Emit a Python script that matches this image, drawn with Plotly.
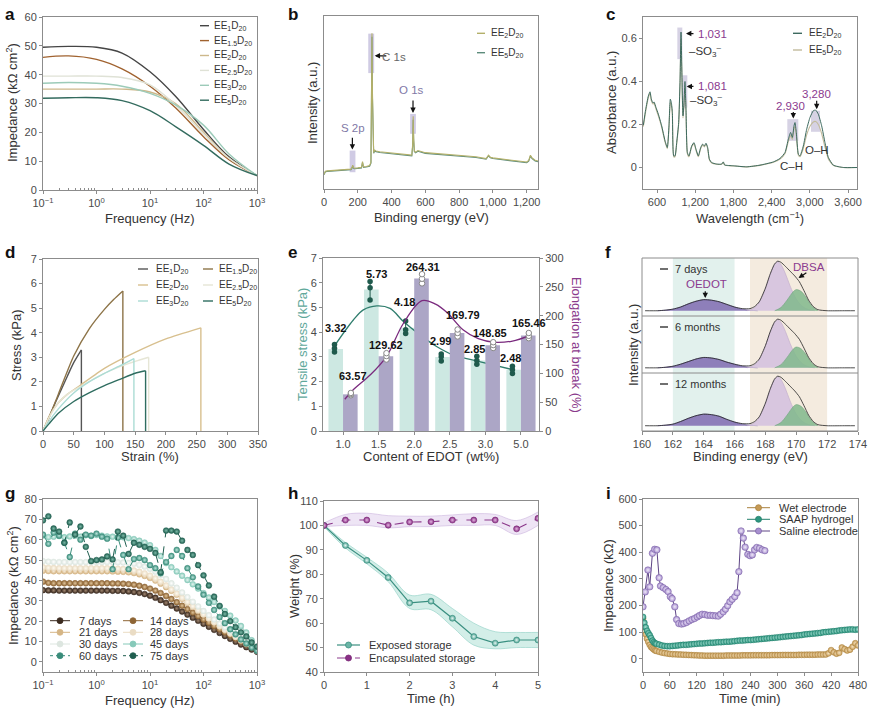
import plotly.graph_objects as go

W, H = 875, 713
FONT = "Liberation Sans, Arial, Helvetica, sans-serif"
LC = "#8c8c8c"
TXT = "#333333"
TICK = "#4a4a4a"


def px(x):
    return x / W


def py(y):
    return 1 - y / H


def xd(l, r):
    return [px(l), px(r)]


def yd(t, b):
    return [py(b), py(t)]


# ======================= DATA =======================
# (a) impedance vs frequency
freq_a = [0.1, 0.3, 1, 3, 10, 30, 100, 300, 1000]
a_names = ["EE<sub>1</sub>D<sub>20</sub>", "EE<sub>1.5</sub>D<sub>20</sub>", "EE<sub>2</sub>D<sub>20</sub>",
           "EE<sub>2.5</sub>D<sub>20</sub>", "EE<sub>3</sub>D<sub>20</sub>", "EE<sub>5</sub>D<sub>20</sub>"]
a_ee1 = [49.5, 49.8, 49.5, 47.5, 41.0, 32.5, 21.0, 11.5, 5.0]
a_ee15 = [46.0, 46.5, 45.3, 42.0, 36.0, 28.5, 18.5, 10.5, 5.0]
a_ee2 = [35.0, 35.0, 35.0, 35.0, 34.0, 30.0, 20.0, 11.0, 5.0]
a_ee25 = [39.5, 39.5, 39.5, 39.0, 36.5, 29.5, 19.5, 11.0, 5.0]
a_ee3 = [37.0, 37.3, 37.0, 36.0, 33.5, 29.5, 22.5, 12.5, 5.0]
a_ee5 = [31.8, 32.0, 32.0, 31.0, 27.5, 22.0, 15.5, 9.0, 5.0]

# (b) XPS survey
xps_x = [0, 8, 20, 60, 100, 140, 160, 166, 170, 174, 180, 200, 222, 228, 234, 250, 270, 278, 281, 284,
         287, 290, 294, 300, 308, 330, 400, 480, 520, 525, 528, 531, 535, 542, 556, 600, 700, 800, 900, 960,
         968, 974, 985, 1000, 1100, 1200, 1212, 1222, 1232, 1250, 1267]
xps_ee2 = [8.5, 10.3, 10.5, 10.8, 11.0, 11.3, 11.5, 12.5, 13.8, 12.3, 12.0, 12.2, 12.5, 15.8, 12.8, 13.0, 13.5,
           15.5, 50, 90, 55, 24, 21, 22.5, 22.0, 21.5, 20.8, 20.0, 19.6, 26, 42, 29, 22, 21.3, 22.2, 21.0,
           20.2, 19.4, 18.6, 17.6, 18.5, 19.6, 18.4, 18.0, 16.8, 15.6, 16.5, 19.5, 18.0, 16.6, 16.2]
xps_ee5 = [8.2, 10.0, 10.2, 10.5, 10.7, 11.0, 11.2, 12.1, 13.3, 12.0, 11.7, 11.9, 12.2, 15.2, 12.5, 12.7, 13.2,
           15.0, 48, 88, 52, 23.5, 20.6, 22.0, 21.6, 21.1, 20.4, 19.6, 19.2, 25, 40, 28, 21.6, 20.9, 21.8,
           20.6, 19.8, 19.0, 18.2, 17.2, 18.1, 19.2, 18.0, 17.6, 16.4, 15.2, 16.1, 19.0, 17.6, 16.2, 15.8]

# (c) FTIR
ftir_x = [385, 422, 464, 490, 511, 537, 553, 584, 621, 673, 726, 762, 788, 809, 825, 841, 862, 883, 909, 940,
          961, 977, 998, 1008, 1024, 1039, 1055, 1076, 1102, 1144, 1181, 1212, 1249, 1286, 1317, 1343, 1369,
          1395, 1422, 1458, 1537, 1615, 1641, 1662, 1798, 2008, 2217, 2427, 2531, 2610, 2662, 2698, 2725,
          2751, 2766, 2787, 2819, 2845, 2897, 2950, 3002, 3054, 3091, 3133, 3185, 3237, 3290, 3368, 3525, 3740]
ftir_ee2 = [0.197, 0.27, 0.333, 0.352, 0.318, 0.30, 0.305, 0.279, 0.248, 0.194, 0.124, 0.093, 0.194, 0.318,
            0.302, 0.256, 0.054, 0.054, 0.116, 0.209, 0.395, 0.63, 0.333, 0.24, 0.302, 0.40, 0.271, 0.07,
            0.054, 0.10, 0.116, 0.085, 0.054, 0.093, 0.109, 0.10, 0.113, 0.093, 0.039, 0.023, 0.016, 0.016,
            0.026, 0.012, 0.008, 0.003, 0.011, 0.026, 0.042, 0.07, 0.132, 0.163, 0.14, 0.194, 0.209, 0.163,
            0.062, 0.054, 0.10, 0.178, 0.233, 0.264, 0.267, 0.248, 0.194, 0.116, 0.047, 0.011, 0.0, 0.0]
ftir_ee5 = [0.19, 0.26, 0.325, 0.345, 0.31, 0.295, 0.3, 0.272, 0.24, 0.188, 0.118, 0.088, 0.185, 0.305, 0.29,
            0.245, 0.05, 0.05, 0.11, 0.2, 0.38, 0.6, 0.32, 0.23, 0.29, 0.38, 0.26, 0.065, 0.05, 0.095, 0.11,
            0.08, 0.05, 0.088, 0.104, 0.096, 0.108, 0.088, 0.036, 0.021, 0.015, 0.015, 0.024, 0.011, 0.007,
            0.003, 0.01, 0.024, 0.039, 0.065, 0.122, 0.15, 0.13, 0.18, 0.192, 0.15, 0.057, 0.05, 0.088, 0.152,
            0.192, 0.212, 0.214, 0.2, 0.158, 0.095, 0.04, 0.01, 0.0, 0.0]

# (d) stress-strain
d_ee1_x = [0, 10, 20, 30, 40, 50, 62.5, 62.5]
d_ee1_y = [0, 0.58, 1.15, 1.7, 2.25, 2.78, 3.3, 0]
d_ee15_x = [0, 10, 25, 50, 75, 100, 115, 130, 130]
d_ee15_y = [0, 0.55, 1.5, 3.05, 4.15, 4.95, 5.35, 5.7, 0]
d_ee2_x = [0, 10, 25, 40, 60, 100, 150, 200, 257, 257]
d_ee2_y = [0, 0.6, 1.15, 1.5, 1.85, 2.55, 3.2, 3.75, 4.2, 0]
d_ee25_x = [0, 10, 25, 40, 60, 100, 140, 172, 172]
d_ee25_y = [0, 0.55, 1.15, 1.5, 1.8, 2.35, 2.75, 3.0, 0]
d_ee3_x = [0, 10, 25, 50, 75, 100, 125, 148, 148]
d_ee3_y = [0, 0.4, 0.9, 1.55, 2.0, 2.35, 2.65, 2.95, 0]
d_ee5_x = [0, 10, 25, 50, 75, 100, 125, 150, 167, 167]
d_ee5_y = [0, 0.3, 0.72, 1.2, 1.55, 1.85, 2.1, 2.35, 2.45, 0]

# (e) tensile stress / elongation
e_content = ["1.0", "1.5", "2.0", "2.5", "3.0", "5.0"]
e_tensile = [3.32, 5.73, 4.18, 2.99, 2.85, 2.48]
e_elong = [63.57, 129.62, 264.31, 169.79, 148.85, 165.46]
e_tensile_pts = [[3.2, 3.35, 3.5], [5.3, 5.8, 6.05], [3.95, 4.1, 4.45], [2.83, 3.0, 3.12],
                 [2.7, 2.85, 3.02], [2.33, 2.48, 2.62]]
e_elong_pts = [[62, 64, 66], [124, 130, 135], [256, 264, 272], [164, 170, 176], [144, 149, 154], [161, 165, 170]]
e_fit_t_x = [-0.26, 0.29, 0.57, 0.95, 1.32, 1.69, 2.17, 2.64, 3.11, 3.86, 4.8]
e_fit_t_y = [3.4, 4.49, 4.9, 5.06, 4.96, 4.44, 3.88, 3.41, 3.07, 2.8, 2.47]
e_fit_e_x = [0.05, 0.28, 0.76, 1.23, 1.69, 2.22, 2.6, 2.93, 3.38, 3.8, 4.23, 4.76, 5.22]
e_fit_e_y = [55, 71, 97, 130, 186, 226, 220, 205, 175, 160, 154, 156, 165]

# (f) XPS S 2p
f_labels = ["7 days", "6 months", "12 months"]
f_env_x = [160.2, 161.0, 161.5, 162.0, 162.5, 163.0, 163.5, 164.0, 164.5, 165.0, 165.5, 166.0, 166.5, 167.0,
           167.3, 167.6, 168.0, 168.3, 168.6, 168.8, 169.0, 169.3, 169.6, 169.9, 170.2, 170.5, 170.8, 171.1,
           171.4, 172.0, 173.0, 173.8]
f_env_7d = [0.0, 0.0, 0.01, 0.03, 0.07, 0.13, 0.18, 0.21, 0.20, 0.17, 0.12, 0.07, 0.04, 0.04, 0.08, 0.17, 0.43,
            0.69, 0.89, 0.94, 0.92, 0.84, 0.75, 0.66, 0.55, 0.38, 0.20, 0.08, 0.02, 0.0, 0.0, 0.0]
f_env_6m = [0.0, 0.0, 0.01, 0.03, 0.07, 0.12, 0.17, 0.20, 0.19, 0.16, 0.11, 0.07, 0.04, 0.04, 0.08, 0.17, 0.43,
            0.69, 0.89, 0.94, 0.92, 0.84, 0.75, 0.66, 0.55, 0.38, 0.20, 0.08, 0.02, 0.0, 0.0, 0.0]
f_env_12m = [0.0, 0.0, 0.01, 0.03, 0.08, 0.14, 0.19, 0.22, 0.21, 0.18, 0.12, 0.07, 0.04, 0.04, 0.08, 0.17, 0.43,
             0.69, 0.89, 0.94, 0.92, 0.84, 0.75, 0.66, 0.55, 0.38, 0.20, 0.08, 0.02, 0.0, 0.0, 0.0]
f_oedot_x = [161.0, 161.5, 162.0, 162.5, 163.0, 163.5, 164.0, 164.5, 165.0, 165.5, 166.0, 166.5, 167.0, 167.5]
f_oedot_7d = [0.0, 0.01, 0.03, 0.07, 0.13, 0.18, 0.21, 0.20, 0.17, 0.12, 0.07, 0.03, 0.01, 0.0]
f_oedot_6m = [0.0, 0.01, 0.03, 0.07, 0.12, 0.17, 0.20, 0.19, 0.16, 0.11, 0.07, 0.03, 0.01, 0.0]
f_oedot_12m = [0.0, 0.01, 0.03, 0.08, 0.14, 0.19, 0.22, 0.21, 0.18, 0.12, 0.07, 0.03, 0.01, 0.0]
f_s1_x = [166.8, 167.2, 167.6, 168.0, 168.3, 168.6, 168.8, 169.0, 169.3, 169.6, 170.0, 170.4, 170.8, 171.2]
f_s1_y = [0.0, 0.04, 0.16, 0.42, 0.68, 0.88, 0.93, 0.88, 0.70, 0.47, 0.22, 0.08, 0.02, 0.0]
f_s2_x = [168.6, 169.0, 169.4, 169.8, 170.0, 170.3, 170.6, 171.0, 171.4]
f_s2_y = [0.0, 0.06, 0.20, 0.36, 0.40, 0.37, 0.27, 0.09, 0.0]

# (g) impedance vs frequency over storage days
freq_g = [0.1, 0.126, 0.158, 0.2, 0.251, 0.316, 0.398, 0.501, 0.631, 0.794, 1.0, 1.26, 1.58, 2.0, 2.51, 3.16,
          3.98, 5.01, 6.31, 7.94, 10.0, 12.6, 15.8, 20.0, 25.1, 31.6, 39.8, 50.1, 63.1, 79.4, 100, 126, 158,
          200, 251, 316, 398, 501, 631, 794, 1000]
g_7d = [35.2, 35.1, 35.1, 35.0, 35.0, 35.0, 35.0, 35.0, 35.0, 35.0, 35.0, 35.0, 35.0, 34.9, 34.9, 34.8, 34.6,
        34.3, 33.9, 33.3, 32.5, 31.5, 30.3, 29.0, 27.6, 26.2, 24.7, 23.2, 21.7, 20.2, 18.7, 17.2, 15.7, 14.2,
        12.7, 11.3, 9.9, 8.5, 7.2, 6.0, 4.9]
g_14d = [39.4, 38.8, 38.6, 38.6, 38.6, 38.6, 38.6, 38.6, 38.6, 38.6, 38.6, 38.6, 38.6, 38.5, 38.5, 38.4, 38.2,
         37.9, 37.4, 36.8, 36.0, 35.0, 33.8, 32.4, 30.9, 29.3, 27.6, 25.9, 24.2, 22.5, 20.8, 19.2, 17.6, 16.0,
         14.5, 13.0, 11.5, 10.0, 8.6, 7.2, 5.8]
g_21d = [44.8, 44.6, 44.5, 44.5, 44.5, 44.5, 44.5, 44.5, 44.5, 44.5, 44.5, 44.5, 44.5, 44.4, 44.3, 44.2, 44.0,
         43.6, 43.0, 42.2, 41.2, 39.9, 38.4, 36.7, 34.9, 33.0, 31.0, 29.0, 27.0, 25.1, 23.2, 21.3, 19.5, 17.7,
         15.9, 14.2, 12.5, 10.9, 9.3, 7.8, 6.4]
g_28d = [46.5, 46.2, 46.1, 46.0, 46.0, 46.0, 46.0, 46.0, 46.0, 46.0, 46.0, 46.0, 46.0, 45.9, 45.8, 45.6, 45.3,
         44.9, 44.3, 43.5, 42.4, 41.0, 39.4, 37.6, 35.6, 33.6, 31.5, 29.4, 27.3, 25.3, 23.3, 21.3, 19.4, 17.5,
         15.7, 13.9, 12.2, 10.5, 8.9, 7.4, 6.0]
g_30d = [49.5, 49.2, 49.1, 49.0, 49.0, 49.0, 49.0, 49.0, 49.0, 49.0, 49.0, 49.0, 49.0, 49.0, 48.9, 48.8, 48.6,
         48.2, 47.6, 46.8, 45.7, 44.3, 42.6, 40.7, 38.6, 36.4, 34.1, 31.8, 29.5, 27.2, 25.0, 22.9, 20.8, 18.8,
         16.9, 15.0, 13.2, 11.4, 9.7, 8.0, 6.4]
g_45d = [62.0, 61.3, 61.5, 61.8, 61.2, 61.6, 62.0, 61.5, 62.2, 61.8, 62.3, 62.0, 61.6, 61.5, 61.3, 61.2, 60.8,
         60.3, 59.5, 58.6, 57.3, 55.0, 52.0, 48.5, 46.5, 44.4, 42.3, 40.2, 38.1, 36.0, 33.8, 31.6, 29.4, 27.2,
         25.0, 22.7, 20.3, 17.6, 14.4, 10.6, 5.5]
g_60d = [62.5, 58.0, 63.5, 62.0, 58.5, 51.5, 63.0, 60.0, 62.5, 62.0, 63.0, 61.5, 60.5, 45.5, 61.0, 52.5, 45.5,
         50.5, 51.0, 50.0, 47.5, 46.0, 43.5, 49.0, 52.0, 55.0, 52.0, 46.0, 41.5, 37.0, 33.0, 29.0, 25.5, 22.0,
         19.0, 16.0, 13.5, 11.0, 9.0, 7.0, 5.5]
g_75d = [69.5, 71.5, 65.5, 64.0, 58.5, 68.5, 62.5, 66.5, 56.5, 49.5, 50.0, 50.3, 51.8, 50.3, 64.0, 62.0, 53.0,
         58.5, 57.5, 56.5, 55.5, 53.5, 44.0, 64.5, 64.5, 64.0, 59.5, 55.0, 52.5, 47.5, 42.5, 37.5, 32.0, 27.5,
         23.5, 20.0, 17.0, 14.5, 12.5, 9.5, 7.5]

# (h) weight vs time
h_time = [0, 0.5, 1, 1.5, 2, 2.5, 3, 3.5, 4, 4.5, 5]
h_exposed = [100, 91.8, 85.7, 78.7, 68.3, 69.0, 62.0, 54.5, 51.8, 53.1, 53.1]
h_exposed_hi = [100.5, 93.0, 87.0, 80.5, 71.5, 71.8, 66.0, 60.0, 56.5, 56.2, 56.2]
h_exposed_lo = [99.5, 90.8, 84.3, 77.0, 66.0, 65.5, 58.5, 51.0, 49.5, 50.0, 50.0]
h_encap = [100, 102.2, 102.2, 100.1, 101.4, 101.5, 102.2, 102.2, 102.2, 98.6, 102.9]
h_encap_hi = [101.0, 104.5, 105.0, 104.0, 103.8, 103.8, 104.3, 104.8, 104.5, 102.0, 105.5]
h_encap_lo = [99.5, 100.0, 100.0, 99.0, 99.5, 99.5, 100.0, 100.0, 100.0, 96.3, 100.0]

# (i) impedance vs time
i_time = [0, 3, 6, 9, 12, 15, 18, 21, 24, 27,
          30, 36, 42, 48, 54, 60, 66, 72, 78, 84, 90, 96, 102, 108, 114, 120, 126, 132, 138, 144,
          150, 156, 162, 168, 174, 180, 186, 192, 198, 204, 210, 216, 222, 228, 234, 240, 246, 252, 258, 264,
          270, 276, 282, 288, 294, 300, 306, 312, 318, 324, 330, 336, 342, 348, 354, 360, 366, 372, 378, 384,
          390, 396, 402, 408, 414, 420, 426, 432, 438, 444, 450, 456, 462, 468, 474, 480]
i_wet = [151, 118, 92, 75, 63, 52, 44, 39, 35, 31,
         29, 26, 23, 21, 19.5, 18, 17, 16.5, 16, 15.5, 15, 14.5, 14, 13.5, 13, 12.5, 12, 12, 11.5, 11.5,
         11.5, 11.5, 11.5, 11.5, 11.5, 11.5, 12, 12, 12, 12, 12, 12, 12.5, 12.5, 12.5, 12.5, 13, 13, 13, 13,
         13, 13, 13, 13.5, 13.5, 13.5, 13.5, 14, 14, 14, 14, 14, 14, 14.5, 14.5, 14.5, 15, 15, 15, 15,
         15.5, 15.5, 15.5, 16, 20, 32, 24, 19, 22, 42, 36, 31, 34, 45, 58, 50]
i_saap = [157, 135, 118, 105, 96, 88, 78, 68, 62, 58,
          56, 53, 50, 48, 47, 47, 48, 49, 50, 51, 52, 52, 53, 54, 55, 56, 57, 57, 58, 59,
          60, 60, 61, 62, 62, 63, 64, 64, 65, 66, 67, 68, 68, 69, 70, 70, 71, 72, 73, 74,
          75, 76, 77, 78, 79, 80, 81, 82, 83, 84, 85, 86, 87, 88, 89, 91, 92, 93, 94, 95,
          96, 97, 99, 100, 101, 102, 103, 104, 106, 107, 108, 109, 110, 110, 109, 110]
i_saline_t = [0, 5, 11, 15, 21, 26, 31, 36, 39, 45, 51, 56, 61, 65, 71, 75, 80, 86, 91, 97, 103, 109, 115,
              121, 126, 132, 138, 144, 150, 156, 162, 168, 173, 179, 184, 189, 194, 199, 205, 210, 214, 219,
              224, 228, 234, 239, 244, 249, 254, 260, 266, 272]
i_saline = [195, 251, 333, 270, 396, 411, 409, 304, 273, 267, 260, 252, 233, 226, 195, 147, 132, 130, 132,
            136, 142, 147, 151, 157, 162, 167, 166, 163, 163, 162, 161, 160, 167, 176, 186, 199, 214, 223,
            233, 248, 327, 480, 453, 419, 392, 387, 390, 409, 418, 415, 409, 406]

# ======================= FIGURE =======================
fig = go.Figure()
shapes, annos = [], []


def base_axis(dom, anchor, rng=None, **kw):
    d = dict(domain=dom, anchor=anchor, showline=True, linecolor=LC, linewidth=1, mirror=True,
             ticks="outside", ticklen=3, tickwidth=1, tickcolor=LC, showgrid=False, zeroline=False,
             tickfont=dict(family=FONT, size=11, color=TICK), automargin=False)
    if rng is not None:
        d["range"] = rng
    d.update(kw)
    return d


LOG_VALS = [0.1, 1, 10, 100, 1000]
LOG_TEXT = ["10<sup>−1</sup>", "10<sup>0</sup>", "10<sup>1</sup>", "10<sup>2</sup>", "10<sup>3</sup>"]
LOG_MINOR = [k * 10 ** e for e in (-1, 0, 1, 2) for k in range(2, 10)]


def log_axis(dom, anchor):
    return base_axis(dom, anchor, [-1, 3], type="log", tickvals=LOG_VALS, ticktext=LOG_TEXT,
                     minor=dict(tickvals=LOG_MINOR, ticks="inside", ticklen=2, tickcolor=LC))


def sc(x, y, xa, ya, **kw):
    fig.add_trace(go.Scatter(x=x, y=y, xaxis=xa, yaxis=ya, showlegend=False, hoverinfo="skip", **kw))


def leg(x0, x1, y, tx, text, color, width=1.4, dash="solid", mfill=None, medge=None, mr=3.0, size=10):
    shapes.append(dict(type="line", xref="paper", yref="paper", x0=px(x0), x1=px(x1), y0=py(y), y1=py(y),
                       line=dict(color=color, width=width, dash=dash)))
    if mfill:
        cx = (x0 + x1) / 2
        shapes.append(dict(type="circle", xref="paper", yref="paper", x0=px(cx - mr), x1=px(cx + mr),
                           y0=py(y + mr), y1=py(y - mr), fillcolor=mfill, line=dict(color=medge, width=0.8)))
    annos.append(dict(xref="paper", yref="paper", x=px(tx), y=py(y), text=text, showarrow=False,
                      xanchor="left", yanchor="middle", font=dict(family=FONT, size=size, color=TXT)))


def title_x(text, cx, cy, color=TXT):
    annos.append(dict(xref="paper", yref="paper", x=px(cx), y=py(cy), text=text, showarrow=False,
                      xanchor="center", yanchor="middle", font=dict(family=FONT, size=13, color=color)))


def title_y(text, cx, cy, color=TXT, angle=-90):
    annos.append(dict(xref="paper", yref="paper", x=px(cx), y=py(cy), text=text, showarrow=False,
                      textangle=angle, xanchor="center", yanchor="middle",
                      font=dict(family=FONT, size=13, color=color)))


def panel_label(t, x, y):
    annos.append(dict(xref="paper", yref="paper", x=px(x), y=py(y), text="<b>%s</b>" % t, showarrow=False,
                      xanchor="left", yanchor="top", font=dict(family=FONT, size=17, color="#111")))


layout_axes = {}

# ---------------- (a) ----------------
a_cols = ["#454545", "#a0622f", "#cdb88b", "#dfe2d6", "#9ccbb9", "#336b5e"]
for vals, col in zip([a_ee1, a_ee15, a_ee2, a_ee25, a_ee3, a_ee5], a_cols):
    sc(freq_a, vals, "x", "y", mode="lines", line=dict(color=col, width=1.4, shape="spline", smoothing=1.0))
layout_axes["xaxis"] = log_axis(xd(43, 257), "y")
layout_axes["yaxis"] = base_axis(yd(17, 190), "x", [0, 60], tickvals=[0, 10, 20, 30, 40, 50, 60])
for i, (nm, col) in enumerate(zip(a_names, a_cols)):
    leg(200, 209, 25.7 + 14.9 * i, 212, nm, col)
title_x("Frequency (Hz)", 150, 218)
title_y("Impedance (kΩ cm<sup>2</sup>)", 12, 103)
panel_label("a", 3, 3)

# ---------------- (b) ----------------
sc(xps_x, xps_ee5, "x2", "y2", mode="lines", line=dict(color="#5d8c7c", width=1.1))
sc(xps_x, xps_ee2, "x2", "y2", mode="lines", line=dict(color="#b3b06a", width=1.1))
layout_axes["xaxis2"] = base_axis(xd(324, 538), "y2", [0, 1267], tickvals=[0, 200, 400, 600, 800, 1000, 1200],
                                  ticktext=["0", "200", "400", "600", "800", "1,000", "1,200"])
layout_axes["yaxis2"] = base_axis(yd(16, 189), "x2", [0, 100], showticklabels=False, ticks="")
BOX = "rgba(170,160,205,0.55)"
for (x0, x1, y0, y1) in [(152, 186, 9.7, 22.2), (262, 297, 67, 89.8), (510, 544, 31.9, 43.4)]:
    shapes.append(dict(type="rect", xref="x2", yref="y2", x0=x0, x1=x1, y0=y0, y1=y1, fillcolor=BOX,
                       line=dict(width=0), layer="below"))
ARR = dict(showarrow=True, arrowhead=2, arrowsize=0.9, arrowwidth=1.2, arrowcolor="#111", text="")
annos.append(dict(xref="x2", yref="y2", x=168, y=22.8, axref="x2", ayref="y2", ax=168, ay=30.5, **ARR))
annos.append(dict(xref="x2", yref="y2", x=300, y=77, axref="x2", ayref="y2", ax=378, ay=77, **ARR))
annos.append(dict(xref="x2", yref="y2", x=527, y=44, axref="x2", ayref="y2", ax=527, ay=52, **ARR))
for (t, x, y, c) in [("S 2p", 170, 35, "#7f78a6"), ("C 1s", 412, 76.5, "#666"), ("O 1s", 520, 57, "#7f78a6")]:
    annos.append(dict(xref="x2", yref="y2", x=x, y=y, text=t, showarrow=False, xanchor="center",
                      font=dict(family=FONT, size=11.5, color=c)))
leg(477, 485, 33.3, 489, a_names[2], "#b3b06a")
leg(477, 485, 52.7, 489, a_names[5], "#5d8c7c")
title_x("Binding energy (eV)", 431, 217)
title_y("Intensity (a.u.)", 313, 103)
panel_label("b", 286, 3)

# ---------------- (c) ----------------
sc(ftir_x, ftir_ee5, "x3", "y3", mode="lines", line=dict(color="#c2bb9c", width=1.1, shape="spline", smoothing=0.5))
sc(ftir_x, ftir_ee2, "x3", "y3", mode="lines", line=dict(color="#3d6a5f", width=1.0, shape="spline", smoothing=0.5))
layout_axes["xaxis3"] = base_axis(xd(643, 857), "y3", [380, 3740], tickvals=[600, 1200, 1800, 2400, 3000, 3600],
                                  ticktext=["600", "1,200", "1,800", "2,400", "3,000", "3,600"])
layout_axes["yaxis3"] = base_axis(yd(17, 189), "x3", [-0.1, 0.7], tickvals=[0, 0.2, 0.4, 0.6],
                                  ticktext=["0", "0.2", "0.4", "0.6"])
BOXC = "rgba(165,155,195,0.45)"
for (x0, x1, y0, y1) in [(919, 997, 0.504, 0.651), (997, 1076, 0.279, 0.429), (2646, 2818, 0.124, 0.225),
                         (3018, 3159, 0.166, 0.264)]:
    shapes.append(dict(type="rect", xref="x3", yref="y3", x0=x0, x1=x1, y0=y0, y1=y1, fillcolor=BOXC,
                       line=dict(width=0), layer="below"))
PUR = "#8b3a8f"
annos.append(dict(xref="x3", yref="y3", x=1055, y=0.623, axref="x3", ayref="y3", ax=1196, ay=0.623, **ARR))
annos.append(dict(xref="x3", yref="y3", x=1065, y=0.377, axref="x3", ayref="y3", ax=1196, ay=0.377, **ARR))
annos.append(dict(xref="x3", yref="y3", x=2740, y=0.228, axref="x3", ayref="y3", ax=2740, ay=0.265, **ARR))
annos.append(dict(xref="x3", yref="y3", x=3107, y=0.271, axref="x3", ayref="y3", ax=3107, ay=0.318, **ARR))
for (t, x, y, c, anc) in [("1,031", 1212, 0.623, PUR, "left"), ("1,081", 1212, 0.377, PUR, "left"),
                          ("–SO<sub>3</sub><sup>–</sup>", 1065, 0.54, "#333", "left"),
                          ("–SO<sub>3</sub><sup>–</sup>", 1091, 0.312, "#333", "left"),
                          ("2,930", 2688, 0.287, PUR, "center"), ("3,280", 3107, 0.343, PUR, "center"),
                          ("C–H", 2714, 0.008, "#333", "center"), ("O–H", 3107, 0.082, "#333", "center")]:
    annos.append(dict(xref="x3", yref="y3", x=x, y=y, text=t, showarrow=False, xanchor=anc, yanchor="middle",
                      font=dict(family=FONT, size=11.5, color=c)))
leg(793, 802, 33.3, 807, a_names[2], "#3d6a5f")
leg(793, 802, 50.0, 807, a_names[5], "#c2bb9c")
title_x("Wavelength (cm<sup>−1</sup>)", 750, 218)
title_y("Absorbance (a.u.)", 612, 103)
panel_label("c", 604, 3)

# ---------------- (d) ----------------
d_cols = ["#555555", "#8d7448", "#d8c08f", "#e6e6d6", "#abdcd5", "#2f6d60"]
d_sets = [(d_ee1_x, d_ee1_y), (d_ee15_x, d_ee15_y), (d_ee2_x, d_ee2_y), (d_ee25_x, d_ee25_y),
          (d_ee3_x, d_ee3_y), (d_ee5_x, d_ee5_y)]
for (xs, ys), col in zip(d_sets, d_cols):
    sc(xs[:-1], ys[:-1], "x4", "y4", mode="lines", line=dict(color=col, width=1.4, shape="spline", smoothing=0.6))
    sc(xs[-2:], ys[-2:], "x4", "y4", mode="lines", line=dict(color=col, width=1.4))
layout_axes["xaxis4"] = base_axis(xd(43, 258), "y4", [0, 350], tickvals=[0, 50, 100, 150, 200, 250, 300, 350])
layout_axes["yaxis4"] = base_axis(yd(259, 431), "x4", [0, 7], tickvals=[0, 1, 2, 3, 4, 5, 6, 7])
for r, idx in enumerate([0, 2, 4]):
    leg(138, 148, 269 + 16 * r, 154, a_names[idx], d_cols[idx])
for r, idx in enumerate([1, 3, 5]):
    leg(203, 213, 269 + 16 * r, 217, a_names[idx], d_cols[idx])
title_x("Strain (%)", 150, 456)
title_y("Stress (kPa)", 16, 345)
panel_label("d", 3, 241)

# ---------------- (e) ----------------
e_idx = list(range(len(e_content)))
fig.add_trace(go.Bar(x=e_idx, y=e_tensile, width=0.41, offset=-0.41, marker=dict(color="#cde8e2", line=dict(width=0)),
                     xaxis="x5", yaxis="y5", showlegend=False, hoverinfo="skip"))
fig.add_trace(go.Bar(x=e_idx, y=e_elong, width=0.41, offset=0.0, marker=dict(color="#aca6c6", line=dict(width=0)),
                     xaxis="x5", yaxis="y10", showlegend=False, hoverinfo="skip"))
sc(e_fit_t_x, e_fit_t_y, "x5", "y5", mode="lines", line=dict(color="#2f7d6d", width=1.3, shape="spline", smoothing=1.0))
sc(e_fit_e_x, e_fit_e_y, "x5", "y10", mode="lines", line=dict(color="#7a2a7e", width=1.3, shape="spline", smoothing=1.0))
ebx_t, eby_t, dx_t, dy_t = [], [], [], []
ebx_e, eby_e, dx_e, dy_e = [], [], [], []
for i, (pt, pe) in enumerate(zip(e_tensile_pts, e_elong_pts)):
    ebx_t += [i - 0.24, i - 0.24, None]
    eby_t += [min(pt), max(pt), None]
    ebx_e += [i + 0.22, i + 0.22, None]
    eby_e += [min(pe), max(pe), None]
    dx_t += [i - 0.24] * len(pt)
    dy_t += pt
    dx_e += [i + 0.22] * len(pe)
    dy_e += pe
sc(ebx_t, eby_t, "x5", "y5", mode="lines", line=dict(color="#1f5a4c", width=1))
sc(ebx_e, eby_e, "x5", "y10", mode="lines", line=dict(color="#888", width=1))
sc(dx_t, dy_t, "x5", "y5", mode="markers", marker=dict(color="#1f5a4c", size=5.5, line=dict(width=0)))
sc(dx_e, dy_e, "x5", "y10", mode="markers", marker=dict(color="white", size=5.5, line=dict(color="#888", width=1)))
layout_axes["xaxis5"] = base_axis(xd(323, 539), "y5", [-0.563, 5.507], tickvals=e_idx, ticktext=e_content)
layout_axes["yaxis5"] = base_axis(yd(258, 431), "x5", [0, 7], tickvals=[0, 1, 2, 3, 4, 5, 6, 7], mirror=False)
layout_axes["yaxis10"] = base_axis(yd(258, 431), "x5", [0, 300], overlaying="y5", side="right",
                                   tickvals=[0, 50, 100, 150, 200, 250, 300], mirror=False)
e_lab = [("3.32", -0.2, 4.15), ("5.73", 0.95, 6.35), ("264.31", 2.24, 6.62), ("4.18", 1.72, 5.23),
         ("169.79", 3.37, 4.69), ("129.62", 1.21, 3.48), ("63.57", 0.29, 2.23), ("2.99", 2.75, 3.65),
         ("2.85", 3.69, 3.31), ("148.85", 4.14, 3.95), ("2.48", 4.7, 2.97), ("165.46", 5.22, 4.36)]
for t, x, y in e_lab:
    annos.append(dict(xref="x5", yref="y5", x=x, y=y, text="<b>%s</b>" % t, showarrow=False, xanchor="center",
                      yanchor="middle", font=dict(family=FONT, size=11, color="#111")))
title_x("Content of EDOT (wt%)", 431, 456)
title_y("Tensile stress (kPa)", 302, 345, color="#5fa89b")
title_y("Elongation at break (%)", 577, 345, color="#8a3a8c", angle=90)
panel_label("e", 286, 241)

# ---------------- (f) ----------------
f_axes = ["y12", "y11", "y6"]
f_envs = [f_env_7d, f_env_6m, f_env_12m]
f_oedots = [f_oedot_7d, f_oedot_6m, f_oedot_12m]
f_rows = [(258, 316), (316, 373), (373, 431)]
for ya, env, oed in zip(f_axes, f_envs, f_oedots):
    sc(f_oedot_x, oed, "x6", ya, mode="lines", fill="tozeroy", fillcolor="#8e7fba",
       line=dict(color="#6f5f9f", width=0.6, shape="spline"))
    sc(f_s1_x, f_s1_y, "x6", ya, mode="lines", fill="tozeroy", fillcolor="rgba(214,196,222,0.95)",
       line=dict(color="#bfa9c9", width=0.6, shape="spline"))
    sc(f_s2_x, f_s2_y, "x6", ya, mode="lines", fill="tozeroy", fillcolor="rgba(128,184,140,0.85)",
       line=dict(color="#6ea27c", width=0.6, shape="spline"))
    sc(f_env_x, env, "x6", ya, mode="lines", line=dict(color="#222", width=0.8, shape="spline", smoothing=0.6))
layout_axes["xaxis6"] = base_axis(xd(642, 858), "y6", [160, 174], tickvals=[160, 162, 164, 166, 168, 170, 172, 174],
                                  mirror=False)
for ya, (t, b) in zip(f_axes, f_rows):
    key = "yaxis" + ya[1:]
    layout_axes[key] = dict(domain=yd(t, b), anchor="x6", range=[-0.1, 1.0], showline=False, showticklabels=False,
                            ticks="", showgrid=False, zeroline=False)
shapes.append(dict(type="rect", xref="x6", yref="paper", x0=162, x1=166, y0=py(431), y1=py(258),
                   fillcolor="#e2f1ed", line=dict(width=0), layer="below"))
shapes.append(dict(type="rect", xref="x6", yref="paper", x0=167, x1=172, y0=py(431), y1=py(258),
                   fillcolor="#f4ebdf", line=dict(width=0), layer="below"))
shapes.append(dict(type="rect", xref="paper", yref="paper", x0=px(642), x1=px(858), y0=py(431), y1=py(258),
                   line=dict(color=LC, width=1)))
for yy in (316, 373):
    shapes.append(dict(type="line", xref="paper", yref="paper", x0=px(642), x1=px(858), y0=py(yy), y1=py(yy),
                       line=dict(color=LC, width=1)))
for lab, (t, b) in zip(f_labels, f_rows):
    leg(660, 668, t + 11, 673, lab, "#222", width=1.3, size=11)
annos.append(dict(xref="x6", yref="y12", x=164.1, y=0.24, axref="x6", ayref="y12", ax=164.1, ay=0.4, **ARR))
annos.append(dict(xref="x6", yref="y12", x=170.15, y=0.62, axref="x6", ayref="y12", ax=170.75, ay=0.74, **ARR))
annos.append(dict(xref="x6", yref="y12", x=164.2, y=0.5, text="OEDOT", showarrow=False, xanchor="center",
                  font=dict(family=FONT, size=11.5, color=PUR)))
annos.append(dict(xref="x6", yref="y12", x=170.8, y=0.82, text="DBSA", showarrow=False, xanchor="center",
                  font=dict(family=FONT, size=11.5, color=PUR)))
title_x("Binding energy (eV)", 750, 456)
title_y("Intensity (a.u.)", 633, 345)
panel_label("f", 603, 241)

# ---------------- (g) ----------------
g_series = [("7 days", g_7d, "#3b2b20", "#a08670", "solid"), ("14 days", g_14d, "#8e6535", "#e0c49a", "solid"),
            ("21 days", g_21d, "#d5b585", "#f8ecd8", "solid"), ("28 days", g_28d, "#eadcc4", "#fffaf0", "solid"),
            ("30 days", g_30d, "#dde6e0", "#ffffff", "solid"), ("45 days", g_45d, "#86c9b9", "#e4f5f0", "solid"),
            ("60 days", g_60d, "#3a8c7a", "#b8e4da", "dash"), ("75 days", g_75d, "#1f5e4f", "#7ab8a6", "dash")]
for name, vals, col, cen, dash in g_series:
    sc(freq_g, vals, "x7", "y7", mode="lines+markers", line=dict(color=col, width=1, dash=dash),
       marker=dict(size=5.8, color=col, gradient=dict(type="radial", color=cen), line=dict(color=col, width=0.5)))
layout_axes["xaxis7"] = log_axis(xd(43, 257), "y7")
layout_axes["yaxis7"] = base_axis(yd(499, 672), "x7", [-5, 80], tickvals=[0, 10, 20, 30, 40, 50, 60, 70, 80])
g_rows = [620.7, 632.3, 644, 655.7]
for k, (name, vals, col, cen, dash) in enumerate(g_series):
    r = k // 2
    dd = "dot" if dash == "dash" else "solid"
    if k % 2 == 0:
        leg(50, 70, g_rows[r], 77, name, col, width=1, dash=dd, mfill=col, medge=col, size=11)
    else:
        leg(123, 143, g_rows[r], 148, name, col, width=1, dash=dd, mfill=col, medge=col, size=11)
title_x("Frequency (Hz)", 150, 700)
title_y("Impedance (kΩ cm<sup>2</sup>)", 13, 586)
panel_label("g", 3, 482)

# ---------------- (h) ----------------
sc(h_time, h_exposed_hi, "x8", "y8", mode="lines", line=dict(color="#8ccfc2", width=0.6, shape="spline"))
sc(h_time, h_exposed_lo, "x8", "y8", mode="lines", fill="tonexty", fillcolor="rgba(130,205,190,0.35)",
   line=dict(color="#8ccfc2", width=0.6, shape="spline"))
sc(h_time, h_encap_hi, "x8", "y8", mode="lines", line=dict(color="#cbb3dd", width=0.6, shape="spline"))
sc(h_time, h_encap_lo, "x8", "y8", mode="lines", fill="tonexty", fillcolor="rgba(205,180,225,0.35)",
   line=dict(color="#cbb3dd", width=0.6, shape="spline"))
sc(h_time, h_exposed, "x8", "y8", mode="lines+markers", line=dict(color="#3a8f80", width=1.2),
   marker=dict(size=6, color="#4aa090", gradient=dict(type="radial", color="#e6f6f2"), line=dict(color="#3a8f80", width=0.6)))
sc(h_time, h_encap, "x8", "y8", mode="lines+markers", line=dict(color="#8c3a8c", width=1.1, dash="dash"),
   marker=dict(size=6, color="#8a2f86", gradient=dict(type="radial", color="#e3b5e0"), line=dict(color="#7a2a76", width=0.6)))
layout_axes["xaxis8"] = base_axis(xd(324, 538), "y8", [0, 5], tickvals=[0, 1, 2, 3, 4, 5])
layout_axes["yaxis8"] = base_axis(yd(501, 672), "x8", [40, 110], tickvals=[40, 50, 60, 70, 80, 90, 100, 110])
leg(337, 360, 645, 367, "Exposed storage", "#3a8f80", width=1.2, mfill="#6ab5a6", medge="#3a8f80", size=11)
leg(337, 360, 658, 367, "Encapsulated storage", "#8c3a8c", width=1.1, dash="dash", mfill="#8a2f86", medge="#7a2a76", size=11)
title_x("Time (h)", 431, 698)
title_y("Weight (%)", 294, 586)
panel_label("h", 286, 482)

# ---------------- (i) ----------------
sc(i_time, i_wet, "x9", "y9", mode="lines+markers", line=dict(color="#a9823f", width=1),
   marker=dict(size=6, color="#c69a55", gradient=dict(type="radial", color="#f5e3c0"), line=dict(color="#a9823f", width=0.5)))
sc(i_time, i_saap, "x9", "y9", mode="lines+markers", line=dict(color="#23806c", width=1),
   marker=dict(size=6, color="#2e9680", gradient=dict(type="radial", color="#b6e8dc"), line=dict(color="#23806c", width=0.5)))
sc(i_saline_t, i_saline, "x9", "y9", mode="lines+markers", line=dict(color="#5e4585", width=1),
   marker=dict(size=6.5, color="#a890d0", gradient=dict(type="radial", color="#f0eaf8"), line=dict(color="#7d64a8", width=0.6)))
layout_axes["xaxis9"] = base_axis(xd(643, 858), "y9", [0, 480], tickvals=[0, 60, 120, 180, 240, 300, 360, 420, 480])
layout_axes["yaxis9"] = base_axis(yd(499, 672), "x9", [-50, 600], tickvals=[0, 100, 200, 300, 400, 500, 600])
leg(747, 770, 507.7, 777, "Wet electrode", "#a9823f", width=1, mfill="#c69a55", medge="#a9823f", size=11)
leg(747, 770, 519.3, 777, "SAAP hydrogel", "#23806c", width=1, mfill="#2e9680", medge="#23806c", size=11)
leg(747, 770, 531.0, 777, "Saline electrode", "#5e4585", width=1, mfill="#a890d0", medge="#7d64a8", size=11)
title_x("Time (min)", 750, 698)
title_y("Impedance (kΩ)", 608, 586)
panel_label("i", 604, 482)

fig.update_layout(
    width=W, height=H, autosize=False,
    margin=dict(l=0, r=0, t=0, b=0, pad=0),
    paper_bgcolor="white", plot_bgcolor="white",
    font=dict(family=FONT, size=11, color=TXT),
    showlegend=False, barmode="overlay",
    shapes=shapes, annotations=annos,
    **layout_axes,
)

fig.write_html("out.html")
